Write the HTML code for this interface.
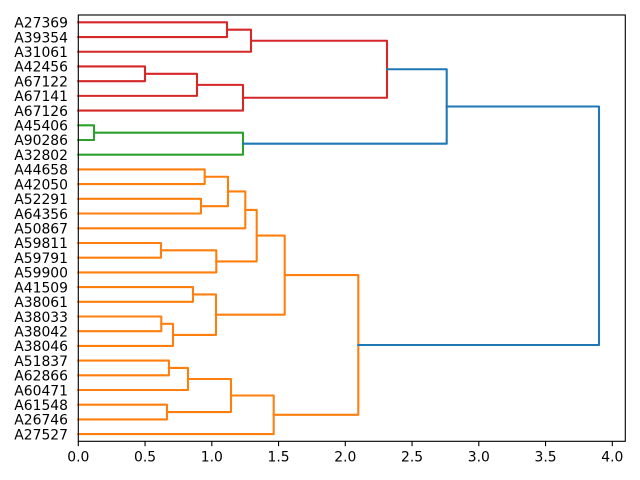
<!DOCTYPE html>
<html><head><meta charset="utf-8"><style>
html,body{margin:0;padding:0;background:#fff;}
svg{display:block;}
text{font-family:"DejaVu Sans","Liberation Sans",sans-serif;font-size:13.9px;fill:#000;}
</style></head><body>
<svg width="640" height="480" viewBox="0 0 640 480" xmlns="http://www.w3.org/2000/svg">
<rect x="0" y="0" width="640" height="480" fill="#fff"/>
<g fill="none" stroke-width="2.08" stroke-linecap="square" stroke-linejoin="round">
<g stroke="#d62728">
<path d="M78.3 22.35 H227 V37.06 H78.3"/>
<path d="M227 29.7 H251 V51.77 H78.3"/>
<path d="M78.3 66.47 H145 V81.18 H78.3"/>
<path d="M145 73.83 H197 V95.89 H78.3"/>
<path d="M197 84.86 H243 V110.6 H78.3"/>
<path d="M251 40.74 H387 V97.73 H243"/>
</g>
<g stroke="#2ca02c">
<path d="M78.3 125.3 H94 V140 H78.3"/>
<path d="M94 132.65 H243 V154.7 H78.3"/>
</g>
<g stroke="#ff7f0e">
<path d="M78.3 169.4 H204.7 V184.1 H78.3"/>
<path d="M78.3 198.8 H201 V213.5 H78.3"/>
<path d="M204.7 176.75 H228 V206.15 H201"/>
<path d="M228 191.45 H245.3 V228.3 H78.3"/>
<path d="M78.3 243 H161 V257.7 H78.3"/>
<path d="M161 250.35 H216.3 V272.4 H78.3"/>
<path d="M245.3 209.9 H256.7 V261.4 H216.3"/>
<path d="M78.3 287.1 H193 V301.8 H78.3"/>
<path d="M78.3 316.5 H161.3 V331.2 H78.3"/>
<path d="M161.3 323.85 H173 V345.9 H78.3"/>
<path d="M193 294.45 H216 V334.9 H173"/>
<path d="M256.7 235.6 H284.7 V314.7 H216"/>
<path d="M78.3 360.6 H169 V375.3 H78.3"/>
<path d="M169 367.95 H188 V390 H78.3"/>
<path d="M78.3 404.7 H167 V419.4 H78.3"/>
<path d="M188 379 H231 V412.05 H167"/>
<path d="M231 395.5 H273.7 V434.1 H78.3"/>
<path d="M284.7 275.1 H358.3 V414.8 H273.7"/>
</g>
<g stroke="#1f77b4">
<path d="M387 69.23 H446.7 V143.7 H243"/>
<path d="M446.7 106.5 H599 V345 H358.3"/>
</g>
</g>
<rect x="78.3" y="15" width="547" height="426.3" fill="none" stroke="#000" stroke-width="1.11"/>
<g stroke="#000" stroke-width="1.11">
<line x1="78.3" y1="441.3" x2="78.3" y2="446.2"/>
<line x1="145.05" y1="441.3" x2="145.05" y2="446.2"/>
<line x1="211.8" y1="441.3" x2="211.8" y2="446.2"/>
<line x1="278.55" y1="441.3" x2="278.55" y2="446.2"/>
<line x1="345.3" y1="441.3" x2="345.3" y2="446.2"/>
<line x1="412.05" y1="441.3" x2="412.05" y2="446.2"/>
<line x1="478.8" y1="441.3" x2="478.8" y2="446.2"/>
<line x1="545.55" y1="441.3" x2="545.55" y2="446.2"/>
<line x1="612.3" y1="441.3" x2="612.3" y2="446.2"/>
</g>
<g text-anchor="middle">
<text x="78.3" y="461.6">0.0</text>
<text x="145.05" y="461.6">0.5</text>
<text x="211.8" y="461.6">1.0</text>
<text x="278.55" y="461.6">1.5</text>
<text x="345.3" y="461.6">2.0</text>
<text x="412.05" y="461.6">2.5</text>
<text x="478.8" y="461.6">3.0</text>
<text x="545.55" y="461.6">3.5</text>
<text x="612.3" y="461.6">4.0</text>
</g>
<g text-anchor="end">
<text x="68" y="27.6">A27369</text>
<text x="68" y="42.3">A39354</text>
<text x="68" y="57.0">A31061</text>
<text x="68" y="71.7">A42456</text>
<text x="68" y="86.4">A67122</text>
<text x="68" y="101.1">A67141</text>
<text x="68" y="115.8">A67126</text>
<text x="68" y="130.5">A45406</text>
<text x="68" y="145.2">A90286</text>
<text x="68" y="160.0">A32802</text>
<text x="68" y="174.7">A44658</text>
<text x="68" y="189.4">A42050</text>
<text x="68" y="204.1">A52291</text>
<text x="68" y="218.8">A64356</text>
<text x="68" y="233.5">A50867</text>
<text x="68" y="248.2">A59811</text>
<text x="68" y="262.9">A59791</text>
<text x="68" y="277.6">A59900</text>
<text x="68" y="292.3">A41509</text>
<text x="68" y="307.1">A38061</text>
<text x="68" y="321.8">A38033</text>
<text x="68" y="336.5">A38042</text>
<text x="68" y="351.2">A38046</text>
<text x="68" y="365.9">A51837</text>
<text x="68" y="380.6">A62866</text>
<text x="68" y="395.3">A60471</text>
<text x="68" y="410.0">A61548</text>
<text x="68" y="424.7">A26746</text>
<text x="68" y="439.4">A27527</text>
</g>
</svg>
</body></html>
